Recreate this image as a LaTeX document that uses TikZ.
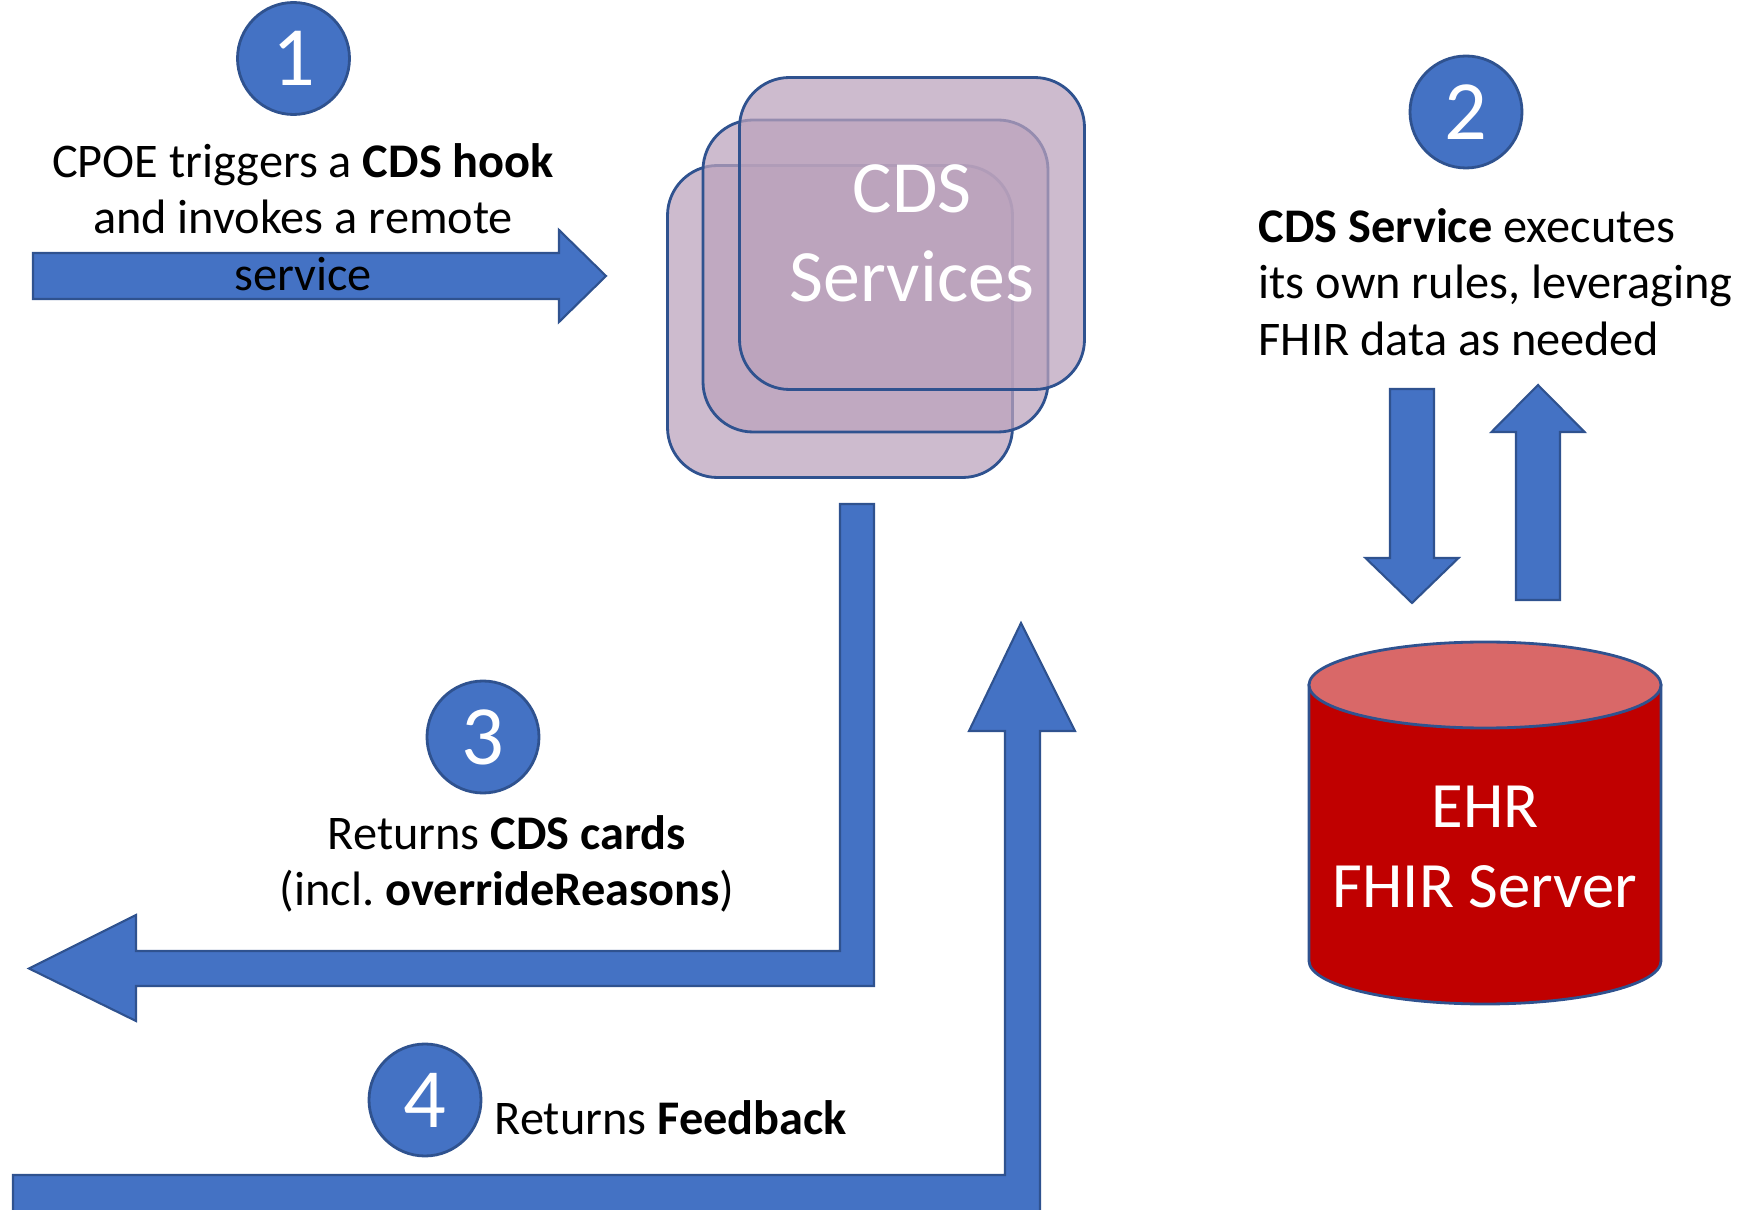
\documentclass[tikz,border=0pt]{standalone}
\usepackage{fontspec}
\setmainfont{Carlito}
\usepackage{xcolor}
\usetikzlibrary{positioning, calc}
\frenchspacing

\definecolor{stepblue}{RGB}{68,114,196}
\definecolor{edgeblue}{RGB}{47,82,143}
\definecolor{svcpurple}{RGB}{187,162,188}
\definecolor{ehrred}{RGB}{192,0,0}
\definecolor{ehrtop}{RGB}{217,104,104}

\begin{document}
\begin{tikzpicture}[
    stepcirc/.style={circle, fill=stepblue, draw=edgeblue, line width=0.8pt,
      minimum size=1.12cm, inner sep=0pt, text=white,
      font=\fontsize{24}{28}\selectfont},
    note/.style={inner sep=0pt, font=\fontsize{13.75}{16.1}\selectfont},
    blockarrow/.style={fill=stepblue, draw=edgeblue, line width=0.6pt, line join=miter},
    svcbox/.style={rounded corners=0.5cm, minimum width=3.45cm, minimum height=3.12cm,
      fill=svcpurple, fill opacity=0.73, text opacity=1, draw=edgeblue, line width=0.8pt}
  ]
      \useasboundingbox (0,0) rectangle (17.6,-12.1);

      % CDS services, back to front
      \node[svcbox] (svc3) at (8.40,-3.215) {};
      \node[svcbox] (svc2) at ($(svc3)+(0.355,0.455)$) {};
      \node[svcbox, text=white, align=center,
        font=\fontsize{21}{25.3}\selectfont] (svc1) at ($(svc2)+(0.365,0.425)$) {CDS\\Services};

      % step 1
      \node[stepcirc] (c1) at (2.935,-0.585) {1};
      \draw[blockarrow] (0.33,-2.53) -- (5.59,-2.53) -- (5.59,-2.30) -- (6.06,-2.76)
        -- (5.59,-3.22) -- (5.59,-2.99) -- (0.33,-2.99) -- cycle;
      \node[note, align=center] (t1) at (3.03,-2.17) {CPOE triggers a \textbf{CDS hook}\\and invokes a remote\\service};

      % step 2
      \node[stepcirc] (c2) at (14.66,-1.12) {2};
      \node[note, align=left, anchor=west] (t2) at (12.58,-2.82) {\textbf{CDS Service} executes\\its own rules, leveraging\\FHIR data as needed};
      \draw[blockarrow] (13.90,-3.89) -- (14.34,-3.89) -- (14.34,-5.58) -- (14.585,-5.58)
        -- (14.12,-6.03) -- (13.655,-5.58) -- (13.90,-5.58) -- cycle;
      \draw[blockarrow] (15.16,-6.00) -- (15.60,-6.00) -- (15.60,-4.32) -- (15.845,-4.32)
        -- (15.38,-3.85) -- (14.915,-4.32) -- (15.16,-4.32) -- cycle;

      % EHR
      \draw[fill=ehrred, draw=edgeblue, line width=0.8pt] (13.09,-6.85) -- (13.09,-9.61)
        arc[start angle=180, end angle=360, x radius=1.76, y radius=0.43]
        -- (16.61,-6.85) -- cycle;
      \draw[fill=ehrtop, draw=edgeblue, line width=0.8pt] (14.85,-6.85) ellipse[x radius=1.76, y radius=0.43];
      \node[text=white, align=center, font=\fontsize{18.4}{22.5}\selectfont] (ehr) at (14.85,-8.47) {EHR\\FHIR Server};

      % step 3
      \draw[blockarrow] (8.40,-5.04) -- (8.74,-5.04) -- (8.74,-9.86) -- (1.36,-9.86)
        -- (1.36,-10.21) -- (0.29,-9.685) -- (1.36,-9.15) -- (1.36,-9.51) -- (8.40,-9.51) -- cycle;
      \node[stepcirc] (c3) at (4.83,-7.37) {3};
      \node[note, align=center] (t3) at (5.07,-8.64) {Returns \textbf{CDS cards}\\(incl. \textbf{overrideReasons})};

      % step 4
      \draw[blockarrow] (0.13,-11.75) -- (10.05,-11.75) -- (10.05,-7.31) -- (9.69,-7.31)
        -- (10.21,-6.23) -- (10.75,-7.31) -- (10.40,-7.31) -- (10.40,-12.2) -- (0.13,-12.2) -- cycle;
      \node[stepcirc] (c4) at (4.25,-11.00) {4};
      \node[note, anchor=west] (t4) at (4.94,-11.18) {Returns \textbf{Feedback}};
\end{tikzpicture}
\end{document}
